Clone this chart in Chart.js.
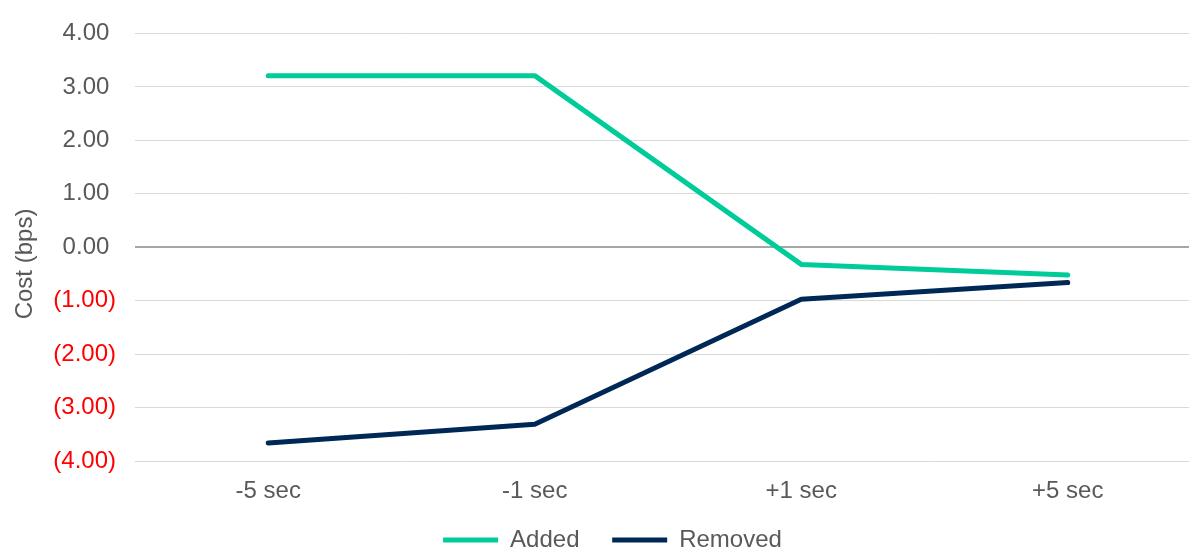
<!DOCTYPE html>
<html lang="en">
<head>
    <meta charset="UTF-8">
    <title>Cost (bps)</title>
    <script src="https://cdn.jsdelivr.net/npm/chart.js"></script>
    <style>
        body { margin: 0; background-color: #ffffff; overflow: hidden; }
        .chart-box { position: relative; width: 1201px; height: 548px; }
    </style>
</head>
<body>
    <div class="chart-box">
        <canvas id="costChart"></canvas>
    </div>

    <script>
        // data
        const categories = ["-5 sec", "-1 sec", "+1 sec", "+5 sec"];
        const addedValues = [3.21, 3.21, -0.32, -0.52];
        const removedValues = [-3.66, -3.31, -0.97, -0.66];
        const yTicks = [-4, -3, -2, -1, 0, 1, 2, 3, 4];

        const grey = '#595959';
        const font = { family: 'Liberation Sans, Arial, sans-serif', size: 24 };

        const ctx = document.getElementById('costChart').getContext('2d');
        new Chart(ctx, {
            type: 'line',
            data: {
                labels: categories,
                datasets: [
                    { label: 'Added', data: addedValues, borderColor: '#00cc99', backgroundColor: '#00cc99',
                      borderWidth: 5, pointRadius: 0, borderCapStyle: 'round', borderJoinStyle: 'round', fill: false },
                    { label: 'Removed', data: removedValues, borderColor: '#002856', backgroundColor: '#002856',
                      borderWidth: 5, pointRadius: 0, borderCapStyle: 'round', borderJoinStyle: 'round', fill: false }
                ]
            },
            options: {
                responsive: true,
                maintainAspectRatio: false,
                animation: false,
                // left padding nudges the centred legend right; legend may run past the bottom edge
                layout: { padding: { top: 20, right: 0, bottom: -14, left: 24 } },
                plugins: {
                    tooltip: { enabled: false },
                    legend: {
                        position: 'bottom',
                        labels: {
                            usePointStyle: true,
                            pointStyle: 'line',
                            pointStyleWidth: 55,
                            color: grey,
                            font: font,
                            padding: 6,
                            // small padding keeps the legend tight vertically, so widen the gap after the first item
                            generateLabels: chart => Chart.defaults.plugins.legend.labels.generateLabels(chart)
                                .map((item, i) => i === 0 ? { ...item, text: item.text + '    ' } : item)
                        }
                    }
                },
                scales: {
                    x: {
                        offset: true,
                        grid: { display: false, drawTicks: false },
                        border: { display: false },
                        ticks: { color: grey, font: font, padding: 16 }
                    },
                    y: {
                        min: yTicks[0],
                        max: yTicks[yTicks.length - 1],
                        afterBuildTicks: axis => { axis.ticks = yTicks.map(v => ({ value: v })); },
                        afterFit: axis => { axis.width = 111; },
                        border: { display: false },
                        grid: {
                            drawTicks: false,
                            color: c => c.tick && c.tick.value === 0 ? '#a6a6a6' : '#d9d9d9',
                            lineWidth: c => c.tick && c.tick.value === 0 ? 2 : 1
                        },
                        ticks: {
                            font: font,
                            padding: 19,
                            color: c => c.tick.value < 0 ? '#ff0000' : grey,
                            callback: v => v < 0 ? '(' + Math.abs(v).toFixed(2) + ')' : v.toFixed(2) + ' '
                        },
                        title: { display: true, text: 'Cost (bps)     ', color: grey, font: font, padding: { top: -13, bottom: 0 } }
                    }
                }
            }
        });
    </script>
</body>
</html>
